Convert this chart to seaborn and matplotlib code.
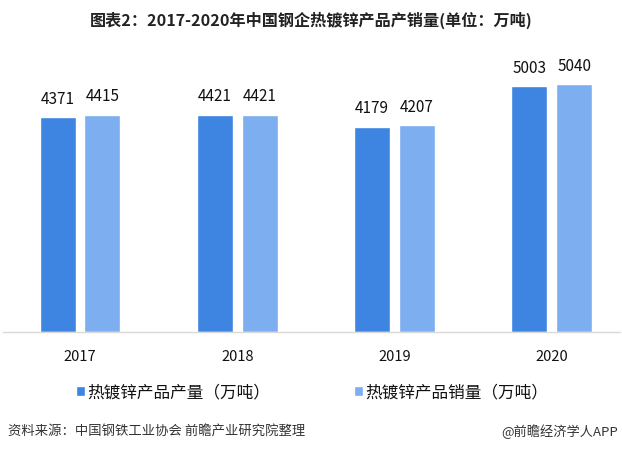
import matplotlib
matplotlib.use("Agg")
import matplotlib.pyplot as plt
import seaborn as sns
import pandas as pd

years = ["2017", "2018", "2019", "2020"]
production = [4371, 4421, 4179, 5003]
sales = [4415, 4421, 4207, 5040]
series_names = ["热镀锌产品产量（万吨）", "热镀锌产品销量（万吨）"]
colors = ["#3D85E0", "#7DAEF0"]
title = "图表2：2017-2020年中国钢企热镀锌产品产销量(单位：万吨)"
source = "资料来源：中国钢铁工业协会 前瞻产业研究院整理"
brand = "@前瞻经济学人APP"

sns.set_theme(style="white")
plt.rcParams['font.family'] = ['Noto Sans CJK SC', 'DejaVu Sans']

df = pd.DataFrame({
    "year": years * 2,
    "value": production + sales,
    "series": [series_names[0]] * len(years) + [series_names[1]] * len(years),
})

fig = plt.figure(figsize=(6.22, 4.52), dpi=100)
W, H = 622, 452
ax_left, ax_right, ax_bottom, ax_top = 3, 620, 333, 60
ax = fig.add_axes([ax_left / W, 1 - ax_bottom / H, (ax_right - ax_left) / W, (ax_bottom - ax_top) / H])

sns.barplot(data=df, x="year", y="value", hue="series", palette=colors,
            width=0.572, gap=0.2, ax=ax, legend=True, saturation=1)

px_per_cat = 157.2
ax.set_xlim((ax_left - 80) / px_per_cat, (ax_right - 80) / px_per_cat)
ax.set_ylim(0, (ax_bottom - ax_top) / 0.04917)

for c in ax.containers:
    ax.bar_label(c, fmt="%d", padding=7.5, fontsize=11, color="#111111")

for s in ["top", "right", "left"]:
    ax.spines[s].set_visible(False)
ax.spines["bottom"].set_color("#D9D9D9")
ax.spines["bottom"].set_linewidth(1.0)
ax.set_yticks([])
ax.set_xlabel("")
ax.set_ylabel("")
ax.tick_params(axis="x", length=0, pad=12, labelsize=10.5, labelcolor="#111111")

handles, labels = ax.get_legend_handles_labels()
ax.get_legend().remove()
fig.legend(handles, labels, loc="center", bbox_to_anchor=(312 / W, 1 - 393 / H), ncol=2,
           frameon=False, fontsize=12, handlelength=0.55, handleheight=0.55,
           handletextpad=0.15, columnspacing=5.0, labelcolor="#111111")

fig.text(0.5, 1 - 20 / H, title, ha="center", va="center", fontsize=11.6,
         fontweight="bold", color="#222222")
fig.text(8 / W, 1 - 432 / H, source, ha="left", va="center", fontsize=9.6, color="#333333")
fig.text(618 / W, 1 - 432 / H, brand, ha="right", va="center", fontsize=9.5, color="#333333")

fig.savefig("out.png", dpi=100, facecolor="white")
